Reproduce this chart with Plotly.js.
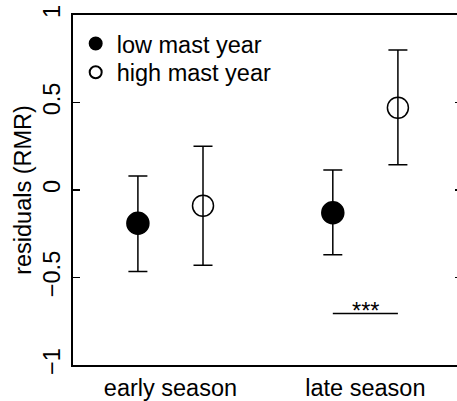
<!DOCTYPE html>
<html>
<head>
<meta charset="utf-8">
<script src="https://cdn.plot.ly/plotly-3.0.1.min.js"></script>
<style>
  html, body { margin: 0; padding: 0; overflow: hidden; background: #fff; }
  #chart { width: 457px; height: 401px; }
</style>
</head>
<body>
<div id="chart"></div>
<script>
// ---- data ----
const categories = ['early season', 'late season'];
const seriesNames = ['low mast year', 'high mast year'];
const lowMean  = [-0.19, -0.13];
const lowUpper = [0.08, 0.115];
const lowLower = [-0.465, -0.37];
const highMean  = [-0.09, 0.47];
const highUpper = [0.25, 0.80];
const highLower = [-0.43, 0.145];
const sigCategory = 'late season';
const sigY = -0.705;
const sigLabel = '***';
const yTicks = [-1, -0.5, 0, 0.5, 1];
const yTickText = ['\u22121', '\u22120.5', '0', '0.5', '1'];

// ---- drawing ----
const FONT = '"Liberation Sans", Arial, Helvetica, sans-serif';
const FS = 23.5;
const OFF = 0.167;
const catPos = categories.map((c, i) => i + 1);

function errTrace(name, mean, upper, lower, shift, symbol, legendId) {
  return {
    type: 'scatter', mode: 'markers', name: name, legend: legendId,
    x: catPos.map(p => p + shift), y: mean,
    marker: { symbol: symbol, size: symbol === 'circle' ? 22 : 21, color: '#000',
              line: { color: '#000', width: 1.5 } },
    error_y: { type: 'data', symmetric: false,
               array: upper.map((u, i) => u - mean[i]),
               arrayminus: mean.map((m, i) => m - lower[i]),
               color: '#000', thickness: 1.5, width: 9.5 },
    hoverinfo: 'skip'
  };
}

const sigX = catPos[categories.indexOf(sigCategory)];
const traces = [
  errTrace(seriesNames[0], lowMean, lowUpper, lowLower, -OFF, 'circle', 'legend'),
  errTrace(seriesNames[1], highMean, highUpper, highLower, OFF, 'circle-open', 'legend2'),
  { type: 'scatter', mode: 'lines', x: [sigX - OFF, sigX + OFF], y: [sigY, sigY],
    line: { color: '#000', width: 1.5 }, showlegend: false, hoverinfo: 'skip' },
  // invisible trace carrying the right-hand tick axis
  { type: 'scatter', mode: 'markers', x: [], y: [], yaxis: 'y2', showlegend: false, hoverinfo: 'skip' }
];

function legendCfg(y) {
  return { x: 0.0044, y: y, xanchor: 'left', yanchor: 'middle', xref: 'paper', yref: 'paper',
           bgcolor: 'rgba(0,0,0,0)', borderwidth: 0, itemsizing: 'constant', itemwidth: 32,
           font: { family: FONT, size: FS, color: '#000' } };
}

const layout = {
  width: 457, height: 401,
  margin: { l: 73, r: 0, t: 14.5, b: 36.3 },
  paper_bgcolor: '#fff', plot_bgcolor: '#fff',
  font: { family: FONT, size: FS, color: '#000' },
  showlegend: true,
  legend: legendCfg(0.9178),
  legend2: legendCfg(0.8358),
  xaxis: { range: [0.5, 2.4702], tickvals: catPos, ticktext: categories, ticks: '',
           showgrid: false, zeroline: false, showline: true, mirror: true,
           linecolor: '#000', linewidth: 1.8, ticklabelstandoff: 1,
           tickfont: { family: FONT, size: FS, color: '#000' } },
  yaxis: { range: [-1, 1], tickvals: yTicks, ticktext: yTickText, ticks: 'inside',
           ticklen: 7, tickwidth: 1.5, tickcolor: '#000', tickangle: -90,
           showgrid: false, zeroline: false, showline: true, mirror: false,
           linecolor: '#000', linewidth: 1.8, ticklabelstandoff: 2,
           tickfont: { family: FONT, size: FS, color: '#000' },
           title: { text: 'residuals (RMR)', standoff: 0, font: { family: FONT, size: FS, color: '#000' } },
           automargin: false },
  yaxis2: { range: [-1, 1], overlaying: 'y', side: 'right', tickvals: yTicks, ticks: 'inside',
            ticklen: 2, tickwidth: 1.5, tickcolor: '#000', showticklabels: false,
            showgrid: false, zeroline: false, showline: false, automargin: false },
  annotations: [
    { x: sigX, y: sigY, xref: 'x', yref: 'y', text: sigLabel, showarrow: false,
      xanchor: 'center', yanchor: 'bottom', yshift: -13,
      font: { family: FONT, size: FS, color: '#000' } }
  ]
};

Plotly.newPlot('chart', traces, layout, { displayModeBar: false, staticPlot: true });
</script>
</body>
</html>
